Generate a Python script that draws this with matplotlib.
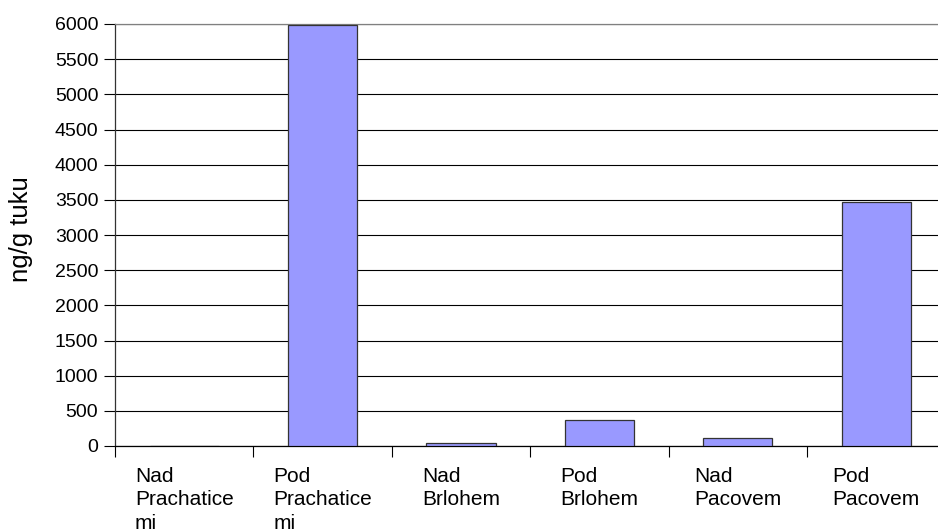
import matplotlib
matplotlib.use("Agg")
import matplotlib.pyplot as plt
import numpy as np

categories = ["Nad\nPrachatice\nmi", "Pod\nPrachatice\nmi", "Nad\nBrlohem",
              "Pod\nBrlohem", "Nad\nPacovem", "Pod\nPacovem"]
values = [3, 5985, 47, 370, 115, 3470]
y_ticks = list(range(0, 6001, 500))
y_label = "ng/g tuku"

plt.rcParams["font.family"] = ["Liberation Sans", "DejaVu Sans"]

fig = plt.figure(figsize=(9.38, 5.31), dpi=100)
ax = fig.add_axes([115 / 938, 85 / 531, 830.5 / 938, 422 / 531])

x = np.arange(len(categories))
ax.set_axisbelow(True)
ax.bar(x, values, width=0.5, color="#9999FF", edgecolor="#333333",
       linewidth=0.9, zorder=3)

ax.set_xlim(-0.5, len(categories) - 0.5)
ax.set_ylim(0, 6000)
ax.set_yticks(y_ticks)
ax.set_yticklabels([str(v) for v in y_ticks], fontsize=14)
ax.yaxis.grid(True, color="black", linewidth=0.8)

# category labels at centres, tick marks at category boundaries
ax.set_xticks(x)
ax.set_xticklabels(categories, fontsize=15, ha="center",
                   multialignment="left", va="top", linespacing=1.3)
ax.tick_params(axis="x", which="major", length=0, pad=15)
ax.set_xticks(np.arange(-0.5, len(categories) + 0.5, 1), minor=True)
ax.tick_params(axis="x", which="minor", length=8, width=0.8, color="black")
ax.tick_params(axis="y", length=8, width=0.8, pad=4)

ax.spines["right"].set_visible(False)
ax.spines["top"].set_color("#808080")
ax.spines["left"].set_color("#333333")
ax.spines["bottom"].set_color("black")
for s in ["top", "left", "bottom"]:
    ax.spines[s].set_linewidth(0.9)

fig.text(21 / 938, 1 - 229 / 531, y_label, rotation=90, fontsize=18.5,
         ha="center", va="center")

fig.savefig("out.png", dpi=100)
